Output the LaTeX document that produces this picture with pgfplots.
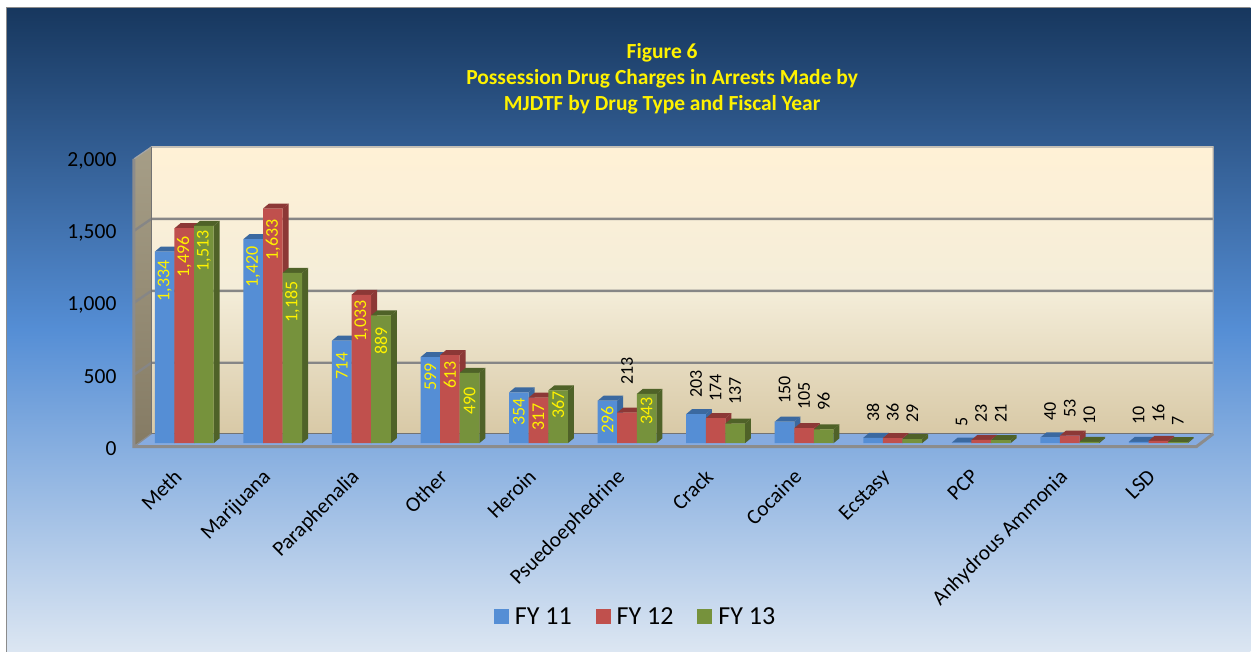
\documentclass[border=0pt]{standalone}
\usepackage{fontspec}
\setmainfont{Carlito}
\usepackage{pgfplots}
\usepackage{pgfplotstable}
\pgfplotsset{compat=1.18}

\definecolor{blueF}{HTML}{558ED5}
\definecolor{blueS}{HTML}{3B69A0}
\definecolor{redF}{HTML}{C0504D}
\definecolor{redS}{HTML}{8C3836}
\definecolor{greenF}{HTML}{76923C}
\definecolor{greenS}{HTML}{4F6228}
\definecolor{bgTop}{HTML}{17375E}
\definecolor{bgBot}{HTML}{DCE6F2}
\definecolor{floorC}{HTML}{86ABE0}
\definecolor{wallT}{HTML}{FFF1D6}
\definecolor{wallM}{HTML}{F4EDD9}
\definecolor{wallB}{HTML}{D8C9A6}
\definecolor{sideT}{HTML}{A69E87}
\definecolor{sideB}{HTML}{857B64}

% idx, values, pixel height of the value label, colour of the value label
\pgfplotstableread{
idx a b c la lb lc ca cb cc
0 1334 1496 1513 282 258 252 yellow yellow yellow
1 1420 1633 1185 268 241 303 yellow yellow yellow
2 714 1033 889 367 322 342 yellow yellow yellow
3 599 613 490 378 376 402 yellow yellow yellow
4 354 317 367 413 418 406 yellow yellow yellow
5 296 213 343 421 372 412 yellow black yellow
6 203 174 137 385 389 392 black black black
7 150 105 96 391 397 403 black black black
8 38 36 29 414 414 415 black black black
9 5 23 21 423 415 415 black black black
10 40 53 10 413 410 417 black black black
11 10 16 7 417 415 422 black black black
}\data

\newcommand{\faces}[4]{% series column, offset, side colour, top colour
  \pgfplotsforeachungrouped \i in {0,...,11}{%
    \pgfplotstablegetelem{\i}{#1}\of\data
    \let\v\pgfplotsretval
    \pgfmathsetmacro\xl{\i+#2-0.1106}
    \pgfmathsetmacro\xr{\i+#2+0.1106}
    \pgfmathsetmacro\xL{\xl+0.0677}
    \pgfmathsetmacro\xR{\xr+0.0677}
    \pgfmathsetmacro\vT{\v+34.8}
    \edef\tmp{\noexpand\addplot[forget plot,fill=#3,draw=none] coordinates {(\xr,0) (\xR,34.8) (\xR,\vT) (\xr,\v)} -- cycle;
      \noexpand\addplot[forget plot,fill=#4,draw=none] coordinates {(\xl,\v) (\xL,\vT) (\xR,\vT) (\xr,\v)} -- cycle;}
    \tmp
  }%
}
\newcommand{\labels}[4]{% value column, label height column, colour column, offset
  \pgfplotsforeachungrouped \i in {0,...,11}{%
    \pgfplotstablegetelem{\i}{#1}\of\data
    \let\v\pgfplotsretval
    \pgfplotstablegetelem{\i}{#2}\of\data
    \pgfmathsetmacro\yl{(443.5-\pgfplotsretval)/0.1438}
    \pgfplotstablegetelem{\i}{#3}\of\data
    \let\cl\pgfplotsretval
    \pgfmathsetmacro\xc{\i+#4}
    \edef\tmp{\noexpand\node[rotate=90,text=\cl,inner sep=0pt,xshift=1pt,font=\noexpand\fontsize{18}{20}\noexpand\selectfont] at (axis cs:\xc,\yl) {\noexpand\pgfmathprintnumber[1000 sep={,},assume math mode=true]{\v}};}
    \tmp
  }%
}

\begin{document}
\begin{tikzpicture}[x=1pt,y=1pt]
\path (0,0) rectangle (1251,652);
% chart area
\shade[top color=bgTop,bottom color=bgBot,middle color=blueF] (7,0) rectangle (1251,644);
\draw[color=gray!90,line width=1.5pt] (6.5,0) -- (6.5,644.5) -- (1251,644.5);
% walls and floor (y = 652 - pixel)
\fill[floorC] (134,205) -- (151.5,218) -- (1214,218) -- (1197,205) -- cycle;
\shade[top color=wallT,bottom color=wallB,middle color=wallM] (151.5,218) rectangle (1214,505);
\shade[top color=sideT,bottom color=sideB] (134,206) -- (151.5,218) -- (151.5,505) -- (134,493) -- cycle;
\foreach \g in {289,361,433}{
  \draw[color=gray!95,line width=2.4pt] (134,\g-12) -- (151.5,\g) -- (1214,\g);
}
\draw[color=gray!70,line width=1.2pt] (134,493) -- (151.5,505) -- (1214,505) -- (1214,218);
\draw[color=gray!90!black,line width=1.2pt] (151.5,505) -- (151.5,218) -- (1214,218);
\draw[color=gray!90,line width=3pt] (1214,218) -- (1197,205) -- (134,205) -- (134,493);
\draw[color=gray!90,line width=1.2pt] (134,205) -- (151.5,218);

\begin{axis}[
  at={(134pt,205pt)},anchor=south west,
  scale only axis,width=1080pt,height=300pt,
  xmin=-0.5688,xmax=11.6208,ymin=-24.3,ymax=2061.9,
  clip=false,
  axis line style={draw=none},
  major tick length=0pt,
  xtick={0,...,11},
  xticklabels={Meth,Marijuana,Paraphenalia,Other,Heroin,Psuedoephedrine,Crack,Cocaine,Ecstasy,PCP,Anhydrous Ammonia,LSD},
  xticklabel style={rotate=45,anchor=north east,font=\fontsize{21.3}{24}\selectfont,yshift=-3.25pt,xshift=-19.75pt},
  ytick={0,500,1000,1500,2000},
  scaled y ticks=false,
  /pgf/number format/1000 sep={,},
  /pgf/number format/assume math mode=true,
  yticklabel style={font=\fontsize{21.5}{24}\selectfont,xshift=-14pt,yshift=-5.5pt},
  title={Figure 6\\Possession Drug Charges in Arrests Made by\\MJDTF by Drug Type and Fiscal Year},
  title style={at={(0.4894,1.2066)},anchor=center,align=center,text=yellow,font=\fontsize{21.5}{26}\selectfont\bfseries},
  legend columns=3,
  legend style={at={(0.4648,-0.5666)},anchor=center,draw=none,fill=none,font=\fontsize{26}{30}\selectfont,
    /tikz/every even column/.append style={column sep=22pt}},
  legend image code/.code={\fill[#1,draw=none] (0pt,-7.5pt) rectangle (15pt,7.5pt);\path (19pt,0pt);},
]
\faces{a}{-0.2212}{blueS}{blueS}
\addplot[ybar,bar width=19.6pt,bar shift=-19.6pt,fill=blueF,draw=none] table[x=idx,y=a]{\data};
\faces{b}{0}{redS}{redS}
\addplot[ybar,bar width=19.6pt,bar shift=0pt,fill=redF,draw=none] table[x=idx,y=b]{\data};
\faces{c}{0.2212}{greenS}{greenS}
\addplot[ybar,bar width=19.6pt,bar shift=19.6pt,fill=greenF,draw=none] table[x=idx,y=c]{\data};
\labels{a}{la}{ca}{-0.2212}
\labels{b}{lb}{cb}{0}
\labels{c}{lc}{cc}{0.2212}
\legend{FY 11,FY 12,FY 13}
\end{axis}
\end{tikzpicture}
\end{document}
